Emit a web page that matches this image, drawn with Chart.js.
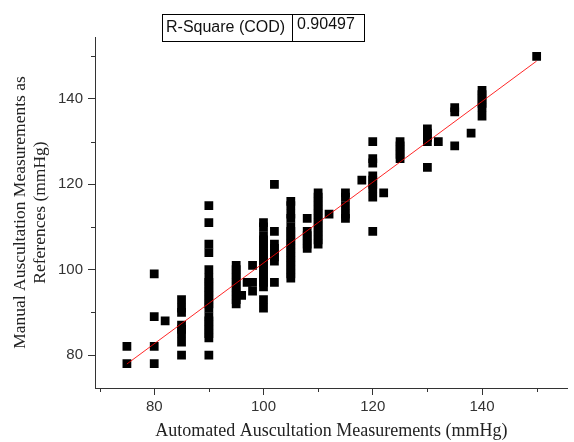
<!DOCTYPE html>
<html lang="en">
<head>
<meta charset="UTF-8">
<title>Manual vs Automated Auscultation</title>
<script src="https://cdn.jsdelivr.net/npm/chart.js"></script>
<style>
  body { margin: 0; background: #fff; }
  #wrap { width: 574px; height: 442px; }
</style>
</head>
<body>
<div id="wrap"><canvas id="myChart" width="574" height="442"></canvas></div>
<script>
    // automated reading (x) and the manual readings (y) taken at it
    const xValues = [75, 80, 82, 85, 90, 95, 96, 97, 98, 100, 102, 105, 108, 110, 112, 115, 118, 120, 122, 125, 130, 132, 135, 138, 140, 150];
    const yValues = [
        [82, 78],
        [99, 89, 82, 78],
        [88],
        [93, 91, 90, 87, 86, 85, 83, 80],
        [115, 111, 106, 104, 100, 98, 97, 96, 95, 94, 93, 92, 91, 89, 88, 87, 86, 85, 84, 80],
        [101, 100, 99, 98, 97, 96, 95, 94, 93, 92],
        [94],
        [97],
        [101, 97, 95],
        [111, 110, 108, 107, 106, 105, 104, 103, 102, 101, 100, 99, 98, 97, 96, 93, 91],
        [120, 109, 106, 105, 104, 103, 102, 97],
        [116, 115, 113, 112, 110, 109, 108, 107, 106, 105, 104, 103, 102, 101, 100, 99, 98],
        [112, 109, 108, 107, 106, 105],
        [118, 117, 116, 115, 114, 113, 112, 111, 110, 109, 108, 107, 106],
        [113],
        [118, 117, 115, 113, 112],
        [121],
        [130, 126, 125, 122, 121, 120, 119, 117, 109],
        [118],
        [130, 129, 128, 127, 126],
        [133, 132, 131, 130, 124],
        [130],
        [138, 137, 129],
        [132],
        [142, 141, 140, 139, 138, 136],
        [150]
    ];
    // linear fit, end points
    const fitX = [75, 150];
    const fitY = [77.9, 148.9];
    const rSquare = '0.90497';

    const xMinor = [70, 90, 110, 130, 150];
    const yMinor = [90, 110, 130, 150];

    const points = [];
    xValues.forEach((x, i) => {
        yValues[i].forEach(y => points.push({ x: x, y: y }));
    });
    const fitLine = fitX.map((x, i) => ({ x: x, y: fitY[i] }));

    const tickFont = { family: "'Liberation Sans', Arial, sans-serif", size: 15 };
    const serif = "'Liberation Serif', 'Times New Roman', serif";

    // short minor ticks and the R-square box
    const extras = {
        id: 'extras',
        afterDraw(chart) {
            const ctx = chart.ctx;
            const xs = chart.scales.x, ys = chart.scales.y;
            ctx.save();
            ctx.strokeStyle = '#333';
            ctx.lineWidth = 1;
            ctx.beginPath();
            xMinor.forEach(v => {
                const px = Math.round(xs.getPixelForValue(v)) + 0.5;
                ctx.moveTo(px, xs.top);
                ctx.lineTo(px, xs.top + 4);
            });
            yMinor.forEach(v => {
                const py = Math.round(ys.getPixelForValue(v)) + 0.5;
                ctx.moveTo(ys.right, py);
                ctx.lineTo(ys.right - 4, py);
            });
            ctx.stroke();

            ctx.strokeStyle = '#000';
            ctx.strokeRect(162.5, 14.5, 202, 27);
            ctx.beginPath();
            ctx.moveTo(292.5, 14.5);
            ctx.lineTo(292.5, 41.5);
            ctx.stroke();
            ctx.fillStyle = '#111';
            ctx.font = "16px 'Liberation Sans', Arial, sans-serif";
            ctx.textBaseline = 'middle';
            ctx.fillText('R-Square (COD)', 166, 28);
            ctx.fillText(rSquare, 297, 25);
            ctx.restore();
        }
    };

    const config = {
        type: 'scatter',
        data: {
            datasets: [{
                type: 'line',
                data: fitLine,
                borderColor: 'rgba(255, 0, 0, 0.85)',
                borderWidth: 1,
                pointRadius: 0,
                fill: false,
                order: 0
            }, {
                data: points,
                pointStyle: 'rect',
                pointRadius: 6.2,
                backgroundColor: '#000',
                borderColor: '#000',
                borderWidth: 0,
                order: 1
            }]
        },
        options: {
            responsive: false,
            animation: false,
            layout: { padding: { top: 37, left: 0, right: 0, bottom: 0 } },
            plugins: {
                legend: { display: false },
                tooltip: { enabled: false }
            },
            scales: {
                x: {
                    type: 'linear',
                    min: 69.16,
                    max: 155.7,
                    afterFit: scale => { scale.height = 54; },
                    ticks: { stepSize: 20, includeBounds: false, color: '#333', font: tickFont, padding: 3 },
                    grid: { drawOnChartArea: false, tickLength: 7, tickColor: '#333' },
                    border: { color: '#333', width: 1 },
                    title: {
                        display: true,
                        text: 'Automated Auscultation Measurements (mmHg)',
                        color: '#222',
                        font: { family: serif, size: 18, lineHeight: 1.15 },
                        padding: { top: 0, bottom: 0 }
                    }
                },
                y: {
                    type: 'linear',
                    min: 72.27,
                    max: 154.53,
                    afterFit: scale => { scale.width = 95; },
                    ticks: { stepSize: 20, includeBounds: false, color: '#333', font: tickFont, padding: 5 },
                    grid: { drawOnChartArea: false, tickLength: 7, tickColor: '#333' },
                    border: { color: '#333', width: 1 },
                    title: {
                        display: true,
                        text: ['Manual Auscultation Measurements as', 'References (mmHg)'],
                        color: '#222',
                        font: { family: serif, size: 17.5, lineHeight: 1.15 },
                        padding: { top: 10.6, bottom: 0 }
                    }
                }
            }
        },
        plugins: [extras]
    };

    const myChart = new Chart(document.getElementById('myChart'), config);
</script>
</body>
</html>
